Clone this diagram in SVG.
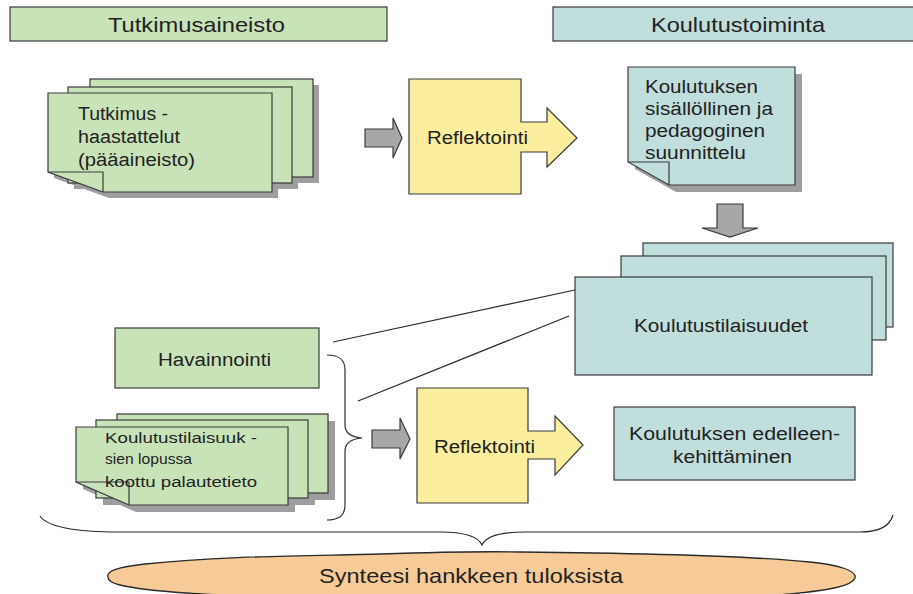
<svg xmlns="http://www.w3.org/2000/svg" width="913" height="594" viewBox="0 0 913 594">
  <style>
    .green { fill: #c9e3b9; stroke: #3a3a3a; stroke-width: 1.2; }
    .teal { fill: #c0dedc; stroke: #3a3a3a; stroke-width: 1.2; }
    .yellow { fill: #fbee9e; stroke: #3a3a3a; stroke-width: 1.2; }
    .grey { fill: #a7a7a9; stroke: #3a3a3a; stroke-width: 1.2; }
    .shadow { fill: #9e9ea0; stroke: none; }
    .flap { fill: none; stroke: #3a3a3a; stroke-width: 1.2; }
    .line { fill: none; stroke: #2a2a2a; stroke-width: 1.2; }
    .cloud { fill: #f7cb98; stroke: #2a2a2a; stroke-width: 1.3; }
    text { font-family: "Liberation Sans", Arial, sans-serif; fill: #222; }
  </style>

  <!-- column headers -->
  <g id="header-tutkimusaineisto">
    <rect class="green" x="10" y="7" width="377" height="34"/>
    <text x="108" y="32" font-size="21" textLength="177" lengthAdjust="spacingAndGlyphs">Tutkimusaineisto</text>
  </g>
  <g id="header-koulutustoiminta">
    <rect class="teal" x="553" y="7" width="362" height="34"/>
    <text x="651" y="32" font-size="21" textLength="174" lengthAdjust="spacingAndGlyphs">Koulutustoiminta</text>
  </g>

  <!-- interview material: stack of three sheets -->
  <g id="tutkimushaastattelut">
    <rect class="shadow" x="96" y="85" width="223" height="98"/>
    <rect class="shadow" x="74" y="93" width="224" height="96"/>
    <path class="shadow" d="M54,99 H278 V198 H109 L54,178 Z"/>
    <rect class="green" x="90" y="79" width="223" height="98"/>
    <rect class="green" x="68" y="87" width="224" height="96"/>
    <path class="green" d="M48,93 H272 V192 H103 L48,172 Z"/>
    <path class="flap" d="M48,172 H103 V192"/>
    <text font-size="18">
      <tspan x="78" y="120" textLength="90" lengthAdjust="spacingAndGlyphs">Tutkimus -</tspan>
      <tspan x="78" y="143" textLength="102" lengthAdjust="spacingAndGlyphs">haastattelut</tspan>
      <tspan x="78" y="166" textLength="117" lengthAdjust="spacingAndGlyphs">(pääaineisto)</tspan>
    </text>
  </g>

  <!-- first reflection step -->
  <g id="reflektointi-1">
    <path class="yellow" d="M409,79 H521 V122 H547 V108 L577,138 L547,167 V152 H521 V194 H409 Z"/>
    <text x="427" y="144" font-size="18" textLength="101" lengthAdjust="spacingAndGlyphs">Reflektointi</text>
  </g>

  <!-- planning note -->
  <g id="suunnittelu">
    <path class="shadow" d="M635,74 H802 V192 H676 L635,169 Z"/>
    <path class="teal" d="M628,67 H795 V185 H669 L628,162 Z"/>
    <path class="flap" d="M628,162 H669 V185"/>
    <text font-size="18">
      <tspan x="645" y="93" textLength="113" lengthAdjust="spacingAndGlyphs">Koulutuksen</tspan>
      <tspan x="645" y="115" textLength="128" lengthAdjust="spacingAndGlyphs">sisällöllinen ja</tspan>
      <tspan x="645" y="137" textLength="120" lengthAdjust="spacingAndGlyphs">pedagoginen</tspan>
      <tspan x="645" y="159" textLength="101" lengthAdjust="spacingAndGlyphs">suunnittelu</tspan>
    </text>
  </g>

  <!-- training sessions: stack of three sheets -->
  <g id="koulutustilaisuudet">
    <rect class="teal" x="643" y="243" width="250" height="84"/>
    <rect class="teal" x="621" y="256" width="265" height="84"/>
    <rect class="teal" x="575" y="277" width="297" height="98"/>
    <text x="634" y="332" font-size="18" textLength="174" lengthAdjust="spacingAndGlyphs">Koulutustilaisuudet</text>
  </g>

  <!-- observation -->
  <g id="havainnointi">
    <rect class="green" x="115" y="328" width="204" height="60"/>
    <text x="158" y="366" font-size="18" textLength="113" lengthAdjust="spacingAndGlyphs">Havainnointi</text>
  </g>

  <!-- feedback: stack of three sheets -->
  <g id="palautetieto">
    <rect class="shadow" x="124" y="421" width="211" height="79"/>
    <rect class="shadow" x="103" y="427" width="212" height="78"/>
    <path class="shadow" d="M83,434 H295 V512 H136 L83,489 Z"/>
    <rect class="green" x="117" y="414" width="211" height="79"/>
    <rect class="green" x="96" y="420" width="212" height="78"/>
    <path class="green" d="M76,427 H288 V505 H129 L76,482 Z"/>
    <path class="flap" d="M76,482 H129 V505"/>
    <text font-size="15.5">
      <tspan x="105" y="443" textLength="152" lengthAdjust="spacingAndGlyphs">Koulutustilaisuuk -</tspan>
      <tspan x="105" y="464" textLength="87" lengthAdjust="spacingAndGlyphs">sien lopussa</tspan>
      <tspan x="105" y="487" textLength="152" lengthAdjust="spacingAndGlyphs">koottu palautetieto</tspan>
    </text>
  </g>

  <!-- second reflection step -->
  <g id="reflektointi-2">
    <path class="yellow" d="M417,388 H528 V431 H555 V416 L583,445 L555,475 V459 H528 V503 H417 Z"/>
    <text x="434" y="453" font-size="18" textLength="101" lengthAdjust="spacingAndGlyphs">Reflektointi</text>
  </g>

  <!-- further development -->
  <g id="edelleenkehittaminen">
    <rect class="teal" x="614" y="407" width="241" height="73"/>
    <text font-size="18">
      <tspan x="629" y="440" textLength="211" lengthAdjust="spacingAndGlyphs">Koulutuksen edelleen-</tspan>
      <tspan x="673" y="463" textLength="119" lengthAdjust="spacingAndGlyphs">kehittäminen</tspan>
    </text>
  </g>

  <!-- synthesis -->
  <g id="synteesi">
    <path class="cloud" d="M108,577 C106,571 118,567 145,564 C220,556 300,556 380,554 C440,552 470,551 520,552 C620,553 740,555 810,562 C840,565 857,571 855,578 C852,586 830,590 790,594 C680,603 420,603 290,598 C210,595 150,592 120,585 C111,583 108,580 108,577 Z"/>
    <text x="319" y="583" font-size="21" textLength="304" lengthAdjust="spacingAndGlyphs">Synteesi hankkeen tuloksista</text>
  </g>

  <!-- connectors -->
  <g id="connectors">
    <path class="grey" d="M365,129 H393 V118 L402,138 L393,158 V147 H365 Z"/>
    <path class="grey" d="M717,204 V228 H702 L730,237 L758,228 H743 V204 Z"/>
    <path class="grey" d="M372,430 H400 V418 L410,439 L400,459 V448 H372 Z"/>
    <line class="line" x1="333" y1="342" x2="575" y2="290"/>
    <line class="line" x1="358" y1="401" x2="569" y2="316"/>
    <path class="line" d="M327,355 C340,355 345,360 345,370 V425 C345,433 350,437 362,438 C350,439 345,443 345,451 V505 C345,515 340,520 327,520"/>
    <path class="line" d="M40,516 C48,528 80,532 120,532 H440 C465,532 478,536 482,545 C486,536 499,532 524,532 H860 C880,532 890,526 893,515"/>
  </g>
</svg>
